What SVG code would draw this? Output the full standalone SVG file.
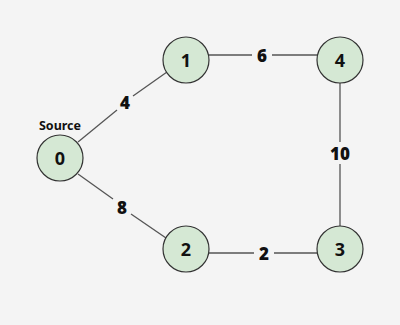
<svg xmlns="http://www.w3.org/2000/svg" width="400" height="325" viewBox="0 0 400 325">
<style>
.n circle{fill:#d5e8d4;stroke:#333;stroke-width:1.2}
.n text{font-family:"Noto Sans","Open Sans",sans-serif;font-weight:bold;font-size:18px;fill:#111;text-anchor:middle;dominant-baseline:central}
.e line{stroke:#555;stroke-width:1.3}
.lbl{font-family:"Noto Sans","Open Sans",sans-serif;font-weight:900;font-size:17px;fill:#111;text-anchor:middle;dominant-baseline:central}
.src{font-family:"Noto Sans","Open Sans",sans-serif;font-weight:bold;font-size:12.5px;fill:#111;text-anchor:middle;dominant-baseline:central}
</style>
<rect width="400" height="325" fill="#f4f4f4"/>
<g id="connectors" class="e">
<line x1="78" y1="142" x2="117" y2="110"/>
<line x1="133" y1="96" x2="167" y2="72"/>
<line x1="78" y1="174" x2="113" y2="199"/>
<line x1="131" y1="214" x2="166" y2="238"/>
<line x1="209" y1="55" x2="252" y2="55"/>
<line x1="272" y1="55" x2="317" y2="55"/>
<line x1="209" y1="253" x2="254" y2="253"/>
<line x1="274" y1="253" x2="317" y2="253"/>
<line x1="340" y1="83" x2="340" y2="142"/>
<line x1="340" y1="164" x2="340" y2="226"/>
<text class="lbl" x="125" y="102">4</text>
<text class="lbl" x="122" y="207">8</text>
<text class="lbl" x="262" y="55">6</text>
<text class="lbl" x="264" y="253">2</text>
<text class="lbl" x="340" y="153">10</text>
</g>
<g id="node0" class="n"><circle cx="60" cy="158" r="23"/><text x="60" y="158">0</text></g>
<text class="src" x="60" y="125">Source</text>
<g id="node1" class="n"><circle cx="186" cy="60" r="23"/><text x="186" y="60">1</text></g>
<g id="node4" class="n"><circle cx="340" cy="60" r="23"/><text x="340" y="60">4</text></g>
<g id="node2" class="n"><circle cx="186" cy="249" r="23"/><text x="186" y="249">2</text></g>
<g id="node3" class="n"><circle cx="340" cy="249" r="23"/><text x="340" y="249">3</text></g>
</svg>
